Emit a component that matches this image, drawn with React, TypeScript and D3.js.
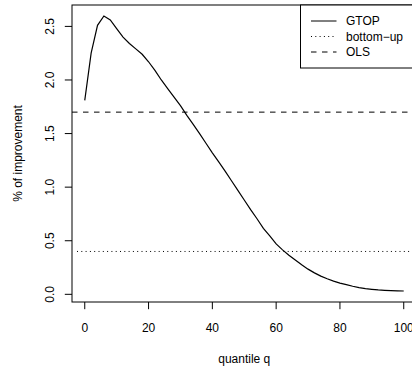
import React from "react";
import * as d3 from "d3";

const qValues = [0, 2, 4, 6, 8, 10, 12, 14, 16, 18, 20, 22, 24, 26, 28, 30, 32, 34, 36, 38, 40, 42, 44, 46, 48, 50, 52, 54, 56, 58, 60, 62, 64, 66, 68, 70, 72, 74, 76, 78, 80, 82, 84, 86, 88, 90, 92, 94, 96, 98, 100];
const gtopValues = [1.81, 2.25, 2.51, 2.597, 2.56, 2.48, 2.40, 2.34, 2.29, 2.24, 2.17, 2.09, 2.00, 1.92, 1.84, 1.76, 1.67, 1.585, 1.50, 1.41, 1.32, 1.235, 1.15, 1.06, 0.97, 0.88, 0.79, 0.705, 0.615, 0.545, 0.47, 0.415, 0.365, 0.32, 0.275, 0.235, 0.20, 0.17, 0.145, 0.123, 0.105, 0.09, 0.075, 0.063, 0.054, 0.047, 0.041, 0.037, 0.034, 0.032, 0.031];
const bottomUpValue = 0.4;
const olsValue = 1.7;
const xTicks = [0, 20, 40, 60, 80, 100];
const yTicks = [0, 0.5, 1, 1.5, 2, 2.5];
const legendLabels = ["GTOP", "bottom\u2212up", "OLS"];
const legendDash = ["none", "1 3.3", "5.5 5.5"];

const W = 412;
const H = 366;
const left = 72;
const right = 416.5;
const top = 5;
const bottom = 302;

export default function App() {
  const x = d3.scaleLinear().domain([-4, 104]).range([left, right]);
  const ymin = d3.min(gtopValues) as number;
  const ymax = d3.max(gtopValues) as number;
  const pad = (ymax - ymin) * 0.04;
  const y = d3.scaleLinear().domain([ymin - pad, ymax + pad]).range([bottom, top]);
  const line = d3
    .line<number>()
    .x((_, i) => x(qValues[i]))
    .y((d) => y(d));
  const font = "'Liberation Sans', Arial, Helvetica, sans-serif";
  const tick = 7.2;
  const legTop = top;
  const legBottom = 68;
  const legMid = (legTop + legBottom) / 2;
  const legStep = 15.5;
  return (
    <svg
      width={W}
      height={H}
      style={{ position: "absolute", left: 0, top: 0, background: "#fff" }}
      fontFamily={font}
      fontSize={12}
    >
      <rect x={0} y={0} width={W} height={H} fill="#fff" />
      <line x1={left + 5} x2={right} y1={y(bottomUpValue)} y2={y(bottomUpValue)} stroke="#000" strokeDasharray="1 3.3" />
      <line x1={left} x2={right} y1={y(olsValue)} y2={y(olsValue)} stroke="#000" strokeDasharray="5.5 5.5" />
      <path d={line(gtopValues) || ""} fill="none" stroke="#000" strokeWidth={1.2} />
      <rect x={left} y={top} width={right - left} height={bottom - top} fill="none" stroke="#000" />
      {xTicks.map((t) => (
        <g key={"x" + t}>
          <line x1={x(t)} x2={x(t)} y1={bottom} y2={bottom + tick} stroke="#000" />
          <text x={x(t)} y={331.5} textAnchor="middle">
            {t}
          </text>
        </g>
      ))}
      {yTicks.map((t) => (
        <g key={"y" + t}>
          <line x1={left - tick} x2={left} y1={y(t)} y2={y(t)} stroke="#000" />
          <text transform={`translate(54,${y(t)}) rotate(-90)`} textAnchor="middle">
            {t.toFixed(1)}
          </text>
        </g>
      ))}
      <text x={(left + right) / 2} y={363} textAnchor="middle">
        quantile q
      </text>
      <text transform={`translate(21.5,${(top + bottom) / 2}) rotate(-90)`} textAnchor="middle">
        % of improvement
      </text>
      <rect x={300.5} y={legTop} width={right - 300.5} height={legBottom - legTop} fill="#fff" stroke="#000" />
      {legendLabels.map((lab, i) => {
        const ly = legMid + (i - 1) * legStep;
        return (
          <g key={lab}>
            <line x1={311} x2={336.5} y1={ly} y2={ly} stroke="#000" strokeDasharray={legendDash[i]} />
            <text x={346} y={ly + 4.3}>
              {lab}
            </text>
          </g>
        );
      })}
    </svg>
  );
}
